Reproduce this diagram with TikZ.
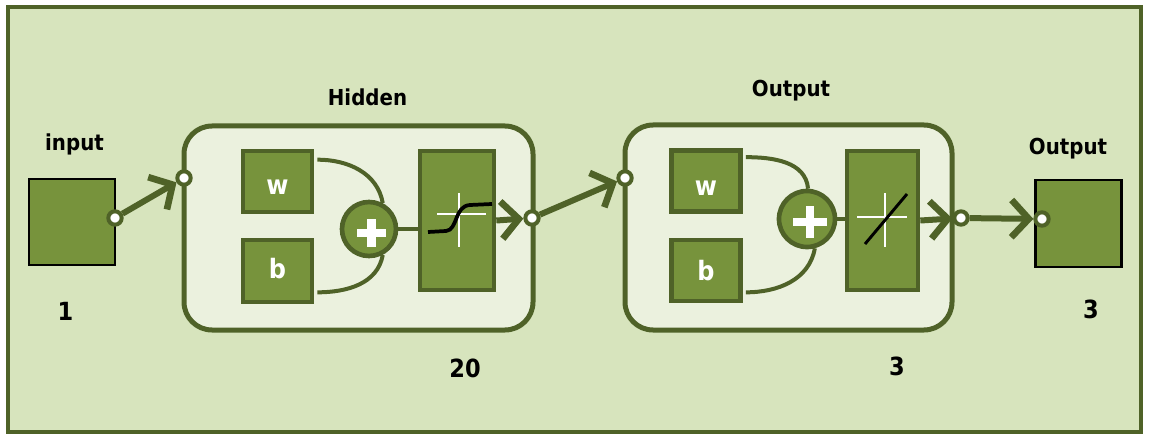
\documentclass[tikz,border=0pt]{standalone}
\usepackage{fontspec}
\setmainfont{DejaVu Sans}[FakeStretch=0.9]
\usetikzlibrary{arrows.meta,calc}
\definecolor{dkol}{HTML}{4F6228}
\definecolor{midol}{HTML}{77933C}
\definecolor{ltbg}{HTML}{D7E4BD}
\definecolor{inbox}{HTML}{EBF1DE}
\pgfdeclarelayer{fg}
\pgfsetlayers{main,fg}
\begin{document}
\begin{tikzpicture}[x=0.75pt,y=-0.75pt,
  lbl/.style={font=\fontsize{16.5}{18}\selectfont\bfseries, anchor=base, inner sep=0},
  num/.style={font=\fontsize{18.75}{20}\selectfont\bfseries, anchor=base, inner sep=0},
  wb/.style={font=\fontsize{20}{22}\selectfont\bfseries, text=white, anchor=base, inner sep=0},
  blk/.style={rectangle, draw=dkol, fill=midol, line width=3.5pt, minimum width=51.75pt, minimum height=45.75pt, inner sep=0},
  tfbox/.style={rectangle, draw=dkol, fill=midol, line width=3.5pt, minimum height=104.25pt, inner sep=0},
  sumc/.style={circle, draw=dkol, fill=midol, line width=3.5pt, inner sep=0},
  laybox/.style={rectangle, draw=dkol, fill=inbox, line width=3.75pt, rounded corners=21pt, inner sep=0},
  iobox/.style={rectangle, draw=black, fill=midol, line width=1.8pt, minimum width=64.5pt, minimum height=64.5pt, inner sep=0},
  port/.style={circle, draw=dkol, fill=white, line width=3pt, minimum size=10pt, inner sep=0},
  arr/.style={draw=dkol, line width=4.5pt, -{Straight Barb[length=13pt,width=28pt,line width=5pt]}},
  wire/.style={draw=dkol, line width=3pt},
  crossw/.style={draw=white, line width=1.8pt},
  plusw/.style={draw=white, line width=6.5pt},
  actcurve/.style={draw=black, line width=2.8pt}
]
\useasboundingbox (0,0) rectangle (1150,435);
\fill[white] (0,0) rectangle (1150,435);
\node[rectangle, draw=dkol, fill=ltbg, line width=3pt, minimum width=849.75pt, minimum height=318pt, inner sep=0] (frame) at (574.5,219.5) {};

% layer boxes
\node[laybox, minimum width=261.75pt, minimum height=153pt] (hid) at (358.5,228) {};
\node[laybox, minimum width=245.25pt, minimum height=153.75pt] (out) at (788.5,227.5) {};

% input / output squares
\node[iobox] (inp) at (72,222) {};
\node[iobox, minimum height=65.25pt] (fin) at (1078.5,223.5) {};

% hidden layer contents
\node[blk] (w1) at (277.5,181.5) {};
\node[blk, minimum height=46.5pt] (b1) at (277.5,271) {};
\node[wb] (w1t) at (277.5,194) {w};
\node[wb] (b1t) at (277.5,278) {b};
\node[sumc, minimum size=40.5pt] (s1) at (369,229) {};
\node[tfbox, minimum width=55.5pt] (tf1) at (457,220.5) {};
\draw[plusw] (357,233) -- (386,233);
\draw[plusw] (371.5,219) -- (371.5,247);
\draw[wire] ($(w1.north east)+(3,11)$) to[out=0,in=100] (s1.62);
\draw[wire] ($(b1.south east)+(3,-12)$) to[out=0,in=-100] (s1.-62);
\draw[wire] (s1.east) -- (s1.east -| tf1.west);
\draw[crossw] (437,214) -- (486,214);
\draw[crossw] (459,193) -- (459,247);
\draw[actcurve] (428,232) -- (446,231) .. controls (458,230) and (454,206) .. (470,205) -- (492,204);

% output layer contents
\node[blk] (w2) at (706,181) {};
\node[blk] (b2) at (706,270.5) {};
\node[wb] (w2t) at (706,195) {w};
\node[wb] (b2t) at (706,280) {b};
\node[sumc, minimum size=42pt] (s2) at (807,219) {};
\node[tfbox, minimum width=53.25pt] (tf2) at (882.5,220.5) {};
\draw[plusw] (793,222) -- (827,222);
\draw[plusw] (810,206) -- (810,238);
\draw[wire] ($(w2.north east)+(3,9)$) to[out=0,in=95] (s2.88);
\draw[wire] ($(b2.south east)+(3,-11)$) to[out=0,in=-100] (s2.-75);
\draw[wire] (s2.east) -- (s2.east -| tf2.west);
\draw[crossw] (857,217) -- (907,217);
\draw[crossw] (885,193) -- (885,247);
\draw[actcurve, line width=2.2pt] (865,244) -- (907,194);

% ports
\begin{pgfonlayer}{fg}
\node[port] (p1) at (115,218) {};
\node[port] (p2) at (184,178) {};
\node[port] (p3) at (532,218) {};
\node[port] (p4) at (625,178) {};
\node[port] (p5) at (961,218) {};
\node[port] (p6) at (1042,219) {};
\end{pgfonlayer}

% connectors
\draw[arr] (p1) -- (p2);
\draw[arr] (tf1.east) -- (p3);
\draw[arr] (p3) -- (p4);
\draw[arr] (tf2.east) -- (p5);
\draw[arr] (p5) -- (p6);

% labels
\node[lbl] (linp) at (74.5,151) {input};
\node[num] (n1) at (65.5,320) {1};
\node[lbl] (lhid) at (367.5,106) {Hidden};
\node[num] (n20) at (465,377) {20};
\node[lbl] (lout) at (791,97) {Output};
\node[num] (n3a) at (897,375) {3};
\node[lbl] (lfin) at (1068,154) {Output};
\node[num] (n3b) at (1091,318) {3};
\end{tikzpicture}
\end{document}
